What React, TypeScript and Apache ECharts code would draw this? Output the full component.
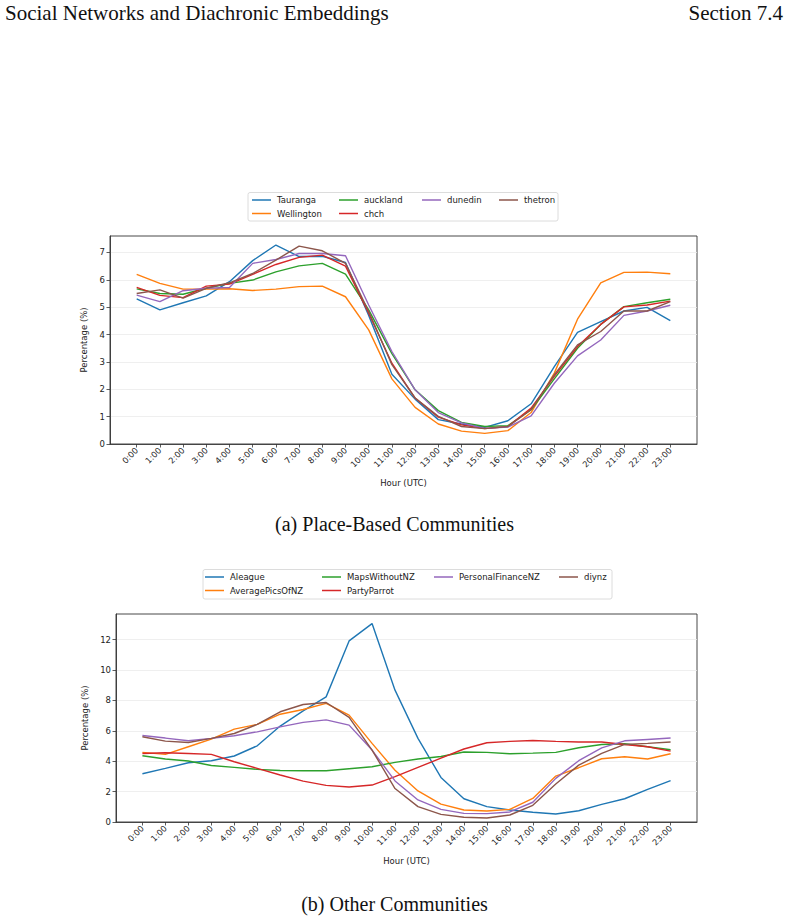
import React, { useEffect, useRef } from "react";
import * as echarts from "echarts";

// ---------- data ----------
const hours = ["0:00","1:00","2:00","3:00","4:00","5:00","6:00","7:00","8:00","9:00","10:00","11:00","12:00","13:00","14:00","15:00","16:00","17:00","18:00","19:00","20:00","21:00","22:00","23:00"];

const placeNames = ["Tauranga", "Wellington", "auckland", "chch", "dunedin", "thetron"];
const tauranga = [5.30, 4.90, 5.16, 5.41, 5.93, 6.70, 7.27, 6.85, 6.86, 6.63, 4.70, 2.55, 1.64, 0.89, 0.73, 0.61, 0.85, 1.47, 2.83, 4.08, 4.47, 4.86, 4.99, 4.51];
const wellington = [6.20, 5.87, 5.66, 5.66, 5.67, 5.61, 5.66, 5.75, 5.77, 5.38, 4.17, 2.38, 1.34, 0.73, 0.47, 0.39, 0.49, 1.15, 2.59, 4.56, 5.89, 6.27, 6.28, 6.22];
const auckland = [5.67, 5.50, 5.47, 5.69, 5.87, 5.99, 6.29, 6.51, 6.60, 6.21, 4.90, 3.30, 1.98, 1.22, 0.79, 0.64, 0.67, 1.25, 2.38, 3.50, 4.37, 5.02, 5.16, 5.29];
const chch = [5.72, 5.43, 5.35, 5.77, 5.84, 6.20, 6.56, 6.82, 6.90, 6.50, 4.78, 2.95, 1.68, 0.98, 0.70, 0.56, 0.64, 1.31, 2.47, 3.56, 4.37, 5.01, 5.08, 5.22];
const dunedin = [5.44, 5.20, 5.60, 5.69, 5.72, 6.60, 6.74, 6.96, 6.96, 6.88, 5.08, 3.38, 1.98, 1.15, 0.77, 0.57, 0.62, 1.03, 2.22, 3.22, 3.80, 4.70, 4.86, 5.07];
const thetron = [5.50, 5.63, 5.33, 5.69, 5.89, 6.23, 6.72, 7.23, 7.06, 6.60, 4.84, 2.90, 1.68, 1.01, 0.64, 0.56, 0.64, 1.25, 2.53, 3.62, 4.11, 4.86, 4.86, 5.20];

const otherNames = ["Aleague", "AveragePicsOfNZ", "MapsWithoutNZ", "PartyParrot", "PersonalFinanceNZ", "diynz"];
const aleague = [3.17, 3.53, 3.90, 4.03, 4.34, 5.01, 6.31, 7.31, 8.23, 11.91, 13.05, 8.67, 5.50, 2.93, 1.53, 1.01, 0.79, 0.64, 0.53, 0.74, 1.16, 1.53, 2.15, 2.72];
const averagePicsOfNZ = [4.58, 4.45, 4.95, 5.45, 6.11, 6.42, 7.09, 7.40, 7.80, 7.03, 5.17, 3.40, 2.04, 1.18, 0.79, 0.72, 0.83, 1.55, 3.02, 3.57, 4.16, 4.29, 4.14, 4.49];
const mapsWithoutNZ = [4.36, 4.14, 4.01, 3.72, 3.59, 3.46, 3.39, 3.37, 3.37, 3.50, 3.63, 3.92, 4.14, 4.31, 4.60, 4.58, 4.49, 4.53, 4.58, 4.88, 5.10, 5.15, 4.95, 4.75];
const partyParrot = [4.51, 4.55, 4.51, 4.45, 3.96, 3.53, 3.09, 2.69, 2.41, 2.30, 2.43, 2.98, 3.59, 4.20, 4.80, 5.21, 5.30, 5.36, 5.30, 5.26, 5.26, 5.10, 4.95, 4.66];
const personalFinanceNZ = [5.69, 5.52, 5.34, 5.50, 5.67, 5.93, 6.26, 6.55, 6.72, 6.37, 4.73, 2.70, 1.45, 0.83, 0.57, 0.55, 0.66, 1.30, 2.87, 4.03, 4.88, 5.34, 5.43, 5.52];
const diynz = [5.61, 5.32, 5.23, 5.50, 5.82, 6.42, 7.25, 7.73, 7.86, 6.88, 4.73, 2.20, 1.01, 0.50, 0.31, 0.26, 0.46, 1.10, 2.50, 3.74, 4.51, 5.10, 5.17, 5.26];

const yTicksTop = [0, 1, 2, 3, 4, 5, 6, 7];
const yTicksBottom = [0, 2, 4, 6, 8, 10, 12];

const colors = ["#1f77b4", "#ff7f0e", "#2ca02c", "#d62728", "#9467bd", "#8c564b"];

// ---------- option building ----------
const hourIdx = hours.map((_, i) => i);
const FONT = "DejaVu Sans";
const TXT = "#222";
const AX = "#333";

function xAxisCfg(gridIndex: number) {
  return {
    type: "value",
    gridIndex,
    min: -1.15,
    max: 24.15,
    name: "Hour (UTC)",
    nameLocation: "middle",
    nameGap: 34,
    nameTextStyle: { fontFamily: FONT, fontSize: 8.5, color: TXT },
    axisLine: { show: true, onZero: false, lineStyle: { color: AX, width: 0.9 } },
    axisTick: { show: true, customValues: hourIdx, length: 3.5, lineStyle: { color: AX, width: 0.8 } },
    axisLabel: {
      customValues: hourIdx,
      rotate: 45,
      margin: 5,
      fontFamily: FONT,
      fontSize: 8.3,
      color: TXT,
      formatter: (v: number) => hours[Math.round(v)] ?? "",
    },
    splitLine: { show: false },
  };
}

function yAxisCfg(gridIndex: number, max: number, interval: number, ticks: number[], nameGap: number) {
  return {
    type: "value",
    gridIndex,
    min: 0,
    max,
    interval,
    name: "Percentage (%)",
    nameLocation: "middle",
    nameGap,
    nameTextStyle: { fontFamily: FONT, fontSize: 8.5, color: TXT },
    axisLine: { show: true, onZero: false, lineStyle: { color: AX, width: 0.9 } },
    axisTick: { show: true, customValues: ticks, length: 3.5, lineStyle: { color: AX, width: 0.8 } },
    axisLabel: {
      customValues: ticks,
      margin: 5,
      fontFamily: FONT,
      fontSize: 8.5,
      color: TXT,
    },
    splitLine: { show: true, lineStyle: { color: "#ebebeb", width: 0.8 } },
  };
}

function lineSeries(name: string, values: number[], color: string, idx: number) {
  return {
    type: "line",
    name,
    xAxisIndex: idx,
    yAxisIndex: idx,
    symbol: "none",
    lineStyle: { color, width: 1.4 },
    itemStyle: { color },
    data: values.map((v, i) => [i, v]),
  };
}

const legendCommon = {
  orient: "vertical",
  icon: "rect",
  itemWidth: 19,
  itemHeight: 1.5,
  itemGap: 3.5,
  padding: 0,
  selectedMode: false,
  textStyle: { fontFamily: FONT, fontSize: 8.5, color: TXT, lineHeight: 10, padding: [0, 0, 0, 1] },
};

const placeValues = [tauranga, wellington, auckland, chch, dunedin, thetron];
const otherValues = [aleague, averagePicsOfNZ, mapsWithoutNZ, partyParrot, personalFinanceNZ, diynz];

const option: any = {
  animation: false,
  backgroundColor: "#ffffff",
  grid: [
    { left: 110, top: 236, width: 587, height: 208, show: true, borderColor: AX, borderWidth: 0.9, backgroundColor: "transparent" },
    { left: 116, top: 614, width: 581, height: 208, show: true, borderColor: AX, borderWidth: 0.9, backgroundColor: "transparent" },
  ],
  xAxis: [xAxisCfg(0), xAxisCfg(1)],
  yAxis: [yAxisCfg(0, 7.6, 1, yTicksTop, 17), yAxisCfg(1, 13.68, 2, yTicksBottom, 22)],
  legend: [
    { ...legendCommon, data: [placeNames[0], placeNames[1]], left: 252, top: 195 },
    { ...legendCommon, data: [placeNames[2], placeNames[3]], left: 339, top: 195 },
    { ...legendCommon, data: [placeNames[4]], left: 422, top: 195 },
    { ...legendCommon, data: [placeNames[5]], left: 499, top: 195 },
    { ...legendCommon, data: [otherNames[0], otherNames[1]], left: 205, top: 572 },
    { ...legendCommon, data: [otherNames[2], otherNames[3]], left: 322, top: 572 },
    { ...legendCommon, data: [otherNames[4]], left: 434, top: 572 },
    { ...legendCommon, data: [otherNames[5]], left: 559, top: 572 },
  ],
  graphic: [
    { type: "rect", shape: { x: 248, y: 192.5, width: 310, height: 28.5, r: 2 }, style: { fill: "#fff", stroke: "#d3d3d3", lineWidth: 0.8 } },
    { type: "rect", shape: { x: 203, y: 569.5, width: 409, height: 29.5, r: 2 }, style: { fill: "#fff", stroke: "#d3d3d3", lineWidth: 0.8 } },
    { type: "text", left: 5, top: 2, style: { text: "Social Networks and Diachronic Embeddings", font: '21px "Liberation Serif"', fill: "#111" } },
    { type: "text", right: 6, top: 2, style: { text: "Section 7.4", font: '21px "Liberation Serif"', fill: "#111" } },
    { type: "text", left: "center", top: 514, style: { text: "(a) Place-Based Communities", font: '20px "Liberation Serif"', fill: "#111" } },
    { type: "text", left: "center", top: 894, style: { text: "(b) Other Communities", font: '20px "Liberation Serif"', fill: "#111" } },
  ],
  series: [
    ...placeNames.map((n, i) => lineSeries(n, placeValues[i], colors[i], 0)),
    ...otherNames.map((n, i) => lineSeries(n, otherValues[i], colors[i], 1)),
  ],
};

export default function App() {
  const ref = useRef<HTMLDivElement>(null);
  useEffect(() => {
    if (!ref.current) return;
    const chart = echarts.init(ref.current, null, { renderer: "svg" });
    chart.setOption(option);
    return () => chart.dispose();
  }, []);
  return (
    <div
      ref={ref}
      style={{ position: "absolute", left: 0, top: 0, width: 789, height: 921, background: "#fff" }}
    />
  );
}
